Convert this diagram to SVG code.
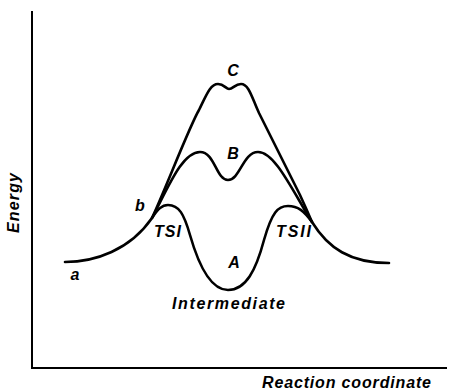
<svg xmlns="http://www.w3.org/2000/svg" width="452" height="392" viewBox="0 0 452 392">
<style>
.ax{fill:none;stroke:#000;stroke-width:2}
.cv{fill:none;stroke:#000;stroke-width:2.6;stroke-linecap:round;stroke-linejoin:round}
.t{font-family:"Liberation Sans",Arial,sans-serif;font-style:italic;font-weight:bold;fill:#000}
</style>
<rect width="452" height="392" fill="#fff"/>
<g id="axes">
<path class="ax" d="M32,11 L32,368 L447,368"/>
</g>
<g id="connectors">
<path id="curveA" class="cv" d="M65,262 C95,262 130,250 152,218 C158,209 162,205 168,205 C179,205 184,214 190,235 C200,270 212,290 228,290 C246,290 256,270 264,240 C272,212 278,206 288,206 C298,206 304,211 312,222 C328,248 350,263 389,263"/>
<path id="curveB" class="cv" d="M152,218 C168,188 182,152 200,152 C215,152 216,180 228,180 C240,180 243,152 258,152 C275,152 292,190 312,222"/>
<path id="curveC" class="cv" d="M152,218 C165,190 190,125 199,110 C206,96 210,84 218,84 C224,84 226,89 229,89 C233,89 235,84 241,84 C249,84 252,98 259,113 L300,195 Q306,208 312,222"/>
</g>
<g id="labels">
<text class="t" x="233" y="76" font-size="16" text-anchor="middle">C</text>
<text class="t" x="233" y="159" font-size="16" text-anchor="middle">B</text>
<text class="t" x="140" y="211" font-size="16" text-anchor="middle">b</text>
<text class="t" x="154" y="237" font-size="16" textLength="27" lengthAdjust="spacing">TSI</text>
<text class="t" x="276" y="237" font-size="16" textLength="35" lengthAdjust="spacing">TSII</text>
<text class="t" x="234" y="268" font-size="16" text-anchor="middle">A</text>
<text class="t" x="75" y="280" font-size="16" text-anchor="middle">a</text>
<text class="t" x="172" y="309" font-size="16" textLength="113" lengthAdjust="spacing">Intermediate</text>
<text class="t" x="262" y="388" font-size="16" textLength="169" lengthAdjust="spacing">Reaction coordinate</text>
<text class="t" transform="translate(19,203) rotate(-90)" font-size="16" text-anchor="middle" textLength="60" lengthAdjust="spacing">Energy</text>
</g>
</svg>
